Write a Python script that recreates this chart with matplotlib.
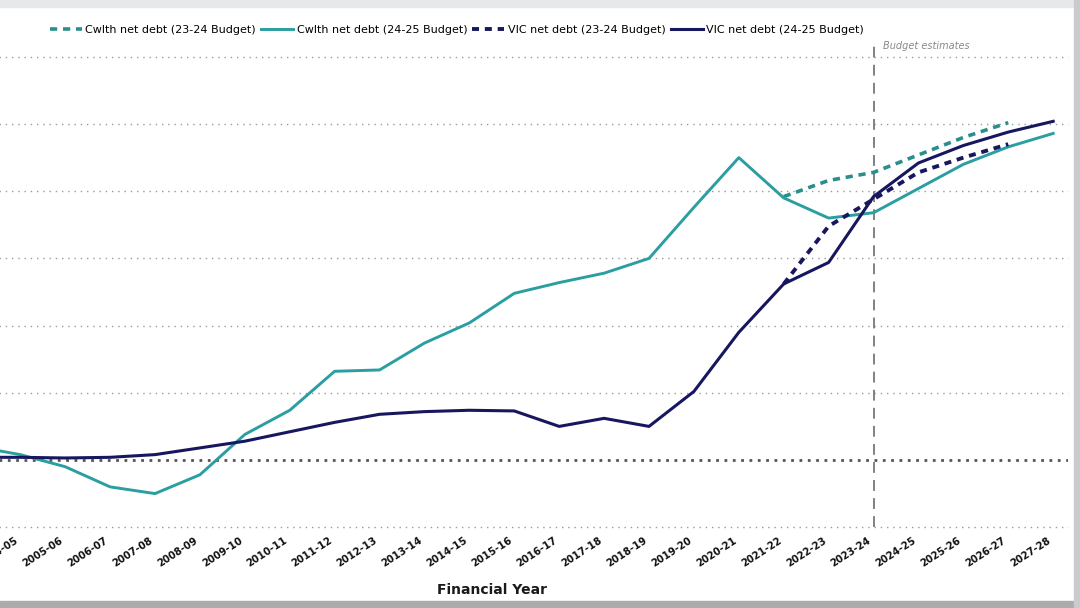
import numpy as np
import matplotlib
matplotlib.use("Agg")
from matplotlib import pyplot as plt
from matplotlib.patches import Rectangle
import matplotlib.transforms as mtrans

plt.rcParams['font.family'] = ['DejaVu Sans']

# financial years (2003-04 sits just off the left edge of the crop)
years = ['2003-04', '2004-05', '2005-06', '2006-07', '2007-08', '2008-09',
         '2009-10', '2010-11', '2011-12', '2012-13', '2013-14', '2014-15',
         '2015-16', '2016-17', '2017-18', '2018-19', '2019-20', '2020-21',
         '2021-22', '2022-23', '2023-24', '2024-25', '2025-26', '2026-27',
         '2027-28']

# net debt, % of GDP / GSP
cwlth_2425 = [1.0, 0.4, -0.5, -2.0, -2.5, -1.1, 1.9, 3.7, 6.6, 6.7, 8.7,
              10.2, 12.4, 13.2, 13.9, 15.0, 18.8, 22.5, 19.5, 18.0, 18.4,
              20.2, 22.0, 23.3, 24.3]
vic_2425 = [0.2, 0.2, 0.15, 0.2, 0.4, 0.9, 1.4, 2.1, 2.8, 3.4, 3.6, 3.7,
            3.65, 2.5, 3.1, 2.5, 5.1, 9.5, 13.1, 14.7, 19.6, 22.1, 23.4,
            24.4, 25.2]

# 23-24 Budget series only cover 2021-22 to 2026-27
est_years = years[18:24]
cwlth_2324 = [19.6, 20.8, 21.4, 22.7, 24.0, 25.1]
vic_2324 = [13.1, 17.4, 19.4, 21.4, 22.5, 23.5]

teal = '#2a9ea0'
teal_dark = '#2a8f8c'
navy = '#17175f'

x_all = np.arange(len(years)) - 1
x_est = np.array([years.index(y) for y in est_years]) - 1

fig = plt.figure(figsize=(10.8, 6.08), dpi=100)
ax = fig.add_axes([-0.0228, 0.1329, 1.0117, 0.8013])

for v in [-5, 5, 10, 15, 20, 25, 30]:
    ax.axhline(v, color='#9a9a9a', lw=1.0, ls=(0, (1, 3.5)), zorder=1,
               clip_on=False)
ax.axhline(0, color='#555555', lw=2.0, ls=(0, (1, 2)), zorder=1)

ax.plot(x_est, cwlth_2324, color=teal_dark, lw=2.6, ls=(0, (2, 1.6)),
        label='Cwlth net debt (23-24 Budget)', zorder=3)
ax.plot(x_all, cwlth_2425, color=teal, lw=2.1,
        label='Cwlth net debt (24-25 Budget)', zorder=3)
ax.plot(x_est, vic_2324, color=navy, lw=2.8, ls=(0, (1.8, 1.5)),
        label='VIC net debt (23-24 Budget)', zorder=4)
ax.plot(x_all, vic_2425, color=navy, lw=2.2,
        label='VIC net debt (24-25 Budget)', zorder=4)

# budget estimates marker
be = years.index('2023-24') - 1
ax.axvline(be, color='#777777', lw=1.3, ls=(0, (6, 4)), zorder=2)
ax.text(be + 0.2, 30.8, 'Budget estimates', fontsize=7, style='italic',
        color='#888888', va='center', ha='left')

ax.set_xlim(-1, 23.33)
ax.set_ylim(-5, 31.25)
ax.set_xticks(x_all)
# first year is fully outside the crop, so leave its label blank
ax.set_xticklabels([''] + years[1:], rotation=33, ha='right',
                   rotation_mode='anchor', fontsize=7.2, fontweight='bold',
                   color='#111111')
ax.tick_params(axis='x', length=0, pad=6)
shift = mtrans.ScaledTranslation(-0.06, 0, fig.dpi_scale_trans)
for lbl in ax.get_xticklabels():
    lbl.set_transform(lbl.get_transform() + shift)
ax.set_yticks([])
for s in ax.spines.values():
    s.set_visible(False)

fig.text(492 / 1080, 0.03, 'Financial Year', fontsize=10,
         fontweight='bold', color='#1a1a1a', ha='center', va='center')

fig.legend(loc='center', bbox_to_anchor=(0.423, 0.951), ncol=4,
           frameon=False, fontsize=8, handlelength=2.9,
           handletextpad=0.3, columnspacing=0.45)

# screenshot frame edges
fig.patches.append(Rectangle((0, 0.988), 1, 0.012, transform=fig.transFigure,
                             color='#e6e8ea', zorder=0))
fig.patches.append(Rectangle((0, 0), 1, 0.012, transform=fig.transFigure,
                             color='#a9abad', zorder=0))
fig.patches.append(Rectangle((0.9945, 0), 0.0055, 1, transform=fig.transFigure,
                             color='#c9cbcd', zorder=0))

fig.savefig('out.png', dpi=100)
